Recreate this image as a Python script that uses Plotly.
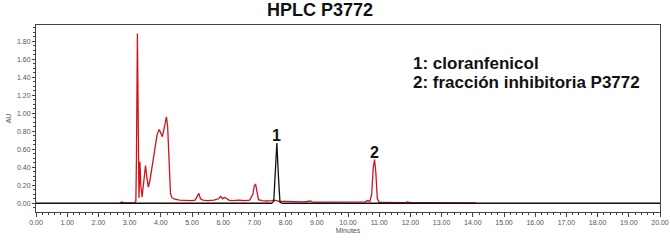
import plotly.graph_objects as go

# Red trace: fracción inhibitoria P3772 (minutes, AU)
red_t = [2.70, 2.74, 2.78, 2.85, 3.00, 3.15, 3.20, 3.22, 3.25, 3.28, 3.30, 3.33, 3.36, 3.40, 3.44,
         3.48, 3.51, 3.55, 3.60, 3.65, 3.72, 3.80, 3.88, 3.95, 4.00, 4.05, 4.10, 4.15, 4.18, 4.22,
         4.27, 4.31, 4.36, 4.45, 4.60, 4.80, 5.00, 5.10, 5.17, 5.22, 5.27, 5.35, 5.50, 5.70, 5.85,
         5.92, 5.98, 6.04, 6.10, 6.18, 6.30, 6.50, 6.70, 6.85, 6.95, 7.00, 7.04, 7.08, 7.13, 7.25,
         7.40, 7.55, 7.62, 7.70, 7.80, 8.00, 8.30, 8.60, 8.79, 8.85, 9.00, 9.30, 9.60, 10.00, 10.30,
         10.55, 10.63, 10.70, 10.76, 10.81, 10.85, 10.89, 10.94, 11.00, 11.20, 11.50, 11.85, 11.90,
         12.00, 12.50, 13.00, 13.50, 14.10]
red_v = [0.005, 0.015, 0.010, 0.005, 0.003, 0.003, 0.020, 0.500, 1.885, 0.600, 0.060, 0.460, 0.200, 0.070, 0.200,
         0.380, 0.420, 0.300, 0.180, 0.250, 0.420, 0.600, 0.760, 0.820, 0.780, 0.740, 0.820, 0.940, 0.960, 0.850,
         0.400, 0.110, 0.060, 0.045, 0.035, 0.030, 0.030, 0.035, 0.080, 0.110, 0.050, 0.035, 0.030, 0.035, 0.050,
         0.075, 0.050, 0.065, 0.055, 0.035, 0.030, 0.035, 0.030, 0.035, 0.100, 0.200, 0.210, 0.120, 0.040, 0.030,
         0.025, 0.030, 0.035, 0.030, 0.020, 0.020, 0.018, 0.015, 0.025, 0.015, 0.013, 0.012, 0.010, 0.010, 0.010,
         0.015, 0.030, 0.020, 0.100, 0.400, 0.485, 0.350, 0.050, 0.010, 0.010, 0.008, 0.008, 0.015,
         0.008, 0.006, 0.005, 0.005, 0.005]

# Black trace: cloranfenicol
black_t = [0.0, 7.55, 7.62, 7.67, 7.72, 7.77, 7.82, 7.90, 20.0]
black_v = [0.0, 0.0, 0.02, 0.30, 0.67, 0.30, 0.01, 0.0, 0.0]

# Peak labels
peak_labels = ["1", "2"]
peak_x = [7.72, 10.85]
peak_y = [0.75, 0.565]

title_text = "HPLC P3772"
legend_lines = ["1: cloranfenicol", "2: fracción inhibitoria P3772"]
x_ticks = [float(i) for i in range(0, 21)]
y_ticks = [round(0.2 * i, 2) for i in range(0, 10)]

fig = go.Figure()
fig.add_trace(go.Scatter(x=red_t, y=red_v, mode="lines",
                         line=dict(color="#d0121c", width=1.3), showlegend=False))
fig.add_trace(go.Scatter(x=black_t, y=black_v, mode="lines",
                         line=dict(color="#111111", width=1.3), showlegend=False))

for lab, px, py in zip(peak_labels, peak_x, peak_y):
    fig.add_annotation(x=px, y=py, text="<b>" + lab + "</b>", showarrow=False,
                       font=dict(family="Liberation Sans, Arial", size=16, color="#111111"),
                       yanchor="middle")

for i, line in enumerate(legend_lines):
    fig.add_annotation(xref="paper", yref="paper", x=(411 - 36) / 624,
                       y=(212 - (63.5 + 19 * i)) / 187,
                       text="<b>" + line + "</b>", showarrow=False,
                       align="left", xanchor="left", yanchor="middle",
                       font=dict(family="Liberation Sans, Arial", size=17, color="#111111"))

fig.update_layout(
    width=670, height=251,
    margin=dict(l=36, r=10, t=25, b=39),
    paper_bgcolor="white", plot_bgcolor="white",
    title=dict(text="<b>" + title_text + "</b>", x=320 / 670, xanchor="center",
               y=1 - 10 / 251, yanchor="middle",
               font=dict(family="Liberation Sans, Arial", size=18, color="#111111")),
    font=dict(family="Liberation Sans, Arial", size=7, color="#555555"),
)

fig.update_xaxes(range=[0, 20], tickvals=x_ticks, tickformat=".2f",
                 ticklabeloverflow="allow", automargin=False,
                 showline=True, linecolor="#444444", linewidth=1, mirror=True,
                 ticks="outside", ticklen=4, tickcolor="#444444",
                 minor=dict(dtick=0.2, ticks="outside", ticklen=2, tickcolor="#444444"),
                 showgrid=False, zeroline=False,
                 tickfont=dict(size=7, color="#555555"),
                 title=dict(text="Minutes", font=dict(size=7, color="#555555"), standoff=2))
fig.update_yaxes(range=[-0.097, 1.98], tickvals=y_ticks, tickformat=".2f",
                 automargin=False,
                 showline=True, linecolor="#444444", linewidth=1, mirror=True,
                 ticks="outside", ticklen=3, tickcolor="#444444",
                 minor=dict(dtick=0.05, ticks="outside", ticklen=2, tickcolor="#444444"),
                 showgrid=False, zeroline=False,
                 tickfont=dict(size=7, color="#555555"),
                 title=dict(text="AU", font=dict(size=7, color="#555555"), standoff=4))

fig.write_html("out.html")
